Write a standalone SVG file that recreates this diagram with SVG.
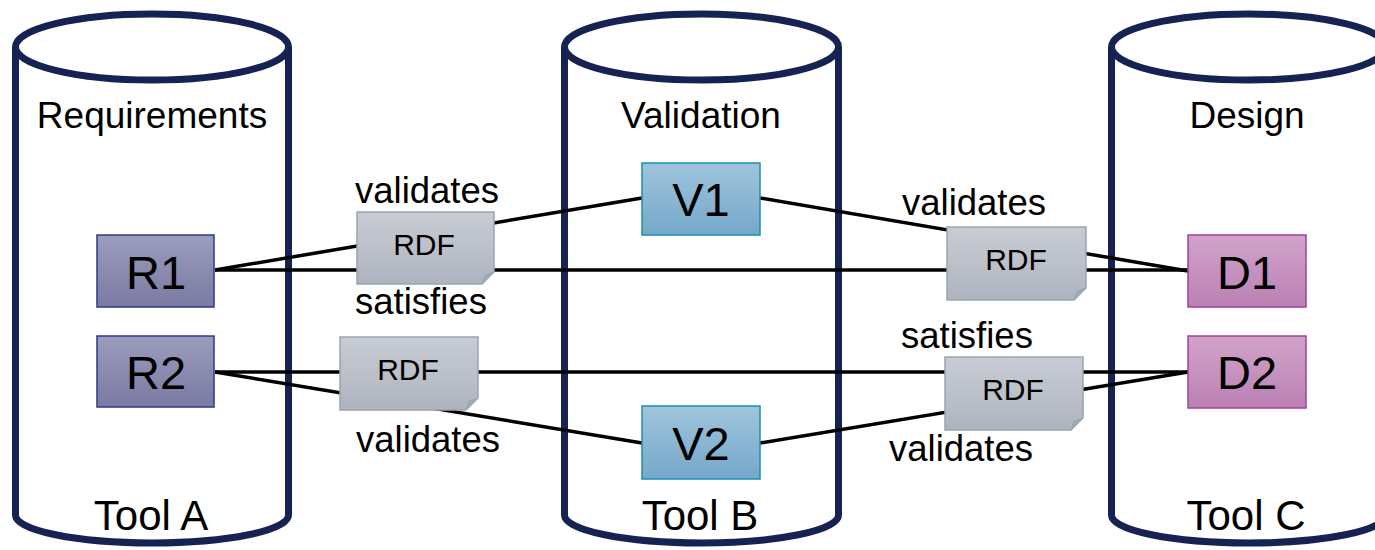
<svg xmlns="http://www.w3.org/2000/svg" width="1375" height="550" viewBox="0 0 1375 550">
  <defs>
    <linearGradient id="gR" x1="0" y1="0" x2="0" y2="1">
      <stop offset="0" stop-color="#9c9cbd"/>
      <stop offset="1" stop-color="#7a7aa3"/>
    </linearGradient>
    <linearGradient id="gV" x1="0" y1="0" x2="0" y2="1">
      <stop offset="0" stop-color="#a0c4dc"/>
      <stop offset="1" stop-color="#74a8c9"/>
    </linearGradient>
    <linearGradient id="gD" x1="0" y1="0" x2="0" y2="1">
      <stop offset="0" stop-color="#d1a3c9"/>
      <stop offset="1" stop-color="#bb80b4"/>
    </linearGradient>
    <linearGradient id="gRDF" x1="0" y1="0" x2="0" y2="1">
      <stop offset="0" stop-color="#c8ccd4"/>
      <stop offset="1" stop-color="#aeb4be"/>
    </linearGradient>
  </defs>
  <style>
    text { font-family: "Liberation Sans", Arial, sans-serif; fill: #000; text-anchor: middle; }
    .cyl { fill: #fff; stroke: #162252; stroke-width: 7; }
    .title { font-size: 37px; }
    .tool { font-size: 42px; }
    .lbl { font-size: 36.5px; }
    .node { font-size: 47px; }
    .rdft { font-size: 30px; }
    .r { fill: url(#gR); stroke: #2b3a8c; stroke-width: 1.5; }
    .v { fill: url(#gV); stroke: #1a90b0; stroke-width: 1.5; }
    .d { fill: url(#gD); stroke: #a3409c; stroke-width: 1.5; }
    .rdf { fill: url(#gRDF); stroke: #9ba4b2; stroke-width: 1.5; }
    .fold { fill: #a2aab6; stroke: #9ba4b2; stroke-width: 1; }
    .conn line { stroke: #000; stroke-width: 3.5; }
  </style>

  <!-- tool repositories -->
  <g id="toolA">
    <path class="cyl" d="M15.5,47 V515 A136.5,28 0 0 0 288.5,515 V47"/>
    <ellipse class="cyl" cx="152" cy="47" rx="136.5" ry="33"/>
    <text class="title" x="152" y="128">Requirements</text>
    <text class="tool" x="151" y="530">Tool A</text>
  </g>
  <g id="toolB">
    <path class="cyl" d="M564.5,47 V515 A137,28 0 0 0 838.5,515 V47"/>
    <ellipse class="cyl" cx="701.5" cy="47" rx="137" ry="33"/>
    <text class="title" x="701" y="128">Validation</text>
    <text class="tool" x="700" y="530">Tool B</text>
  </g>
  <g id="toolC">
    <path class="cyl" d="M1111.5,47 V515 A137,28 0 0 0 1385.5,515 V47"/>
    <ellipse class="cyl" cx="1248.5" cy="47" rx="137" ry="33"/>
    <text class="title" x="1247" y="128">Design</text>
    <text class="tool" x="1246" y="530">Tool C</text>
  </g>

  <!-- links between artefacts -->
  <g id="connectors" class="conn">
    <line x1="215" y1="270" x2="1188" y2="270"/>
    <line x1="215" y1="270" x2="642" y2="198"/>
    <line x1="760" y1="198" x2="1188" y2="271"/>
    <line x1="215" y1="372" x2="1188" y2="372"/>
    <line x1="215" y1="372" x2="642" y2="443"/>
    <line x1="760" y1="443" x2="1188" y2="372"/>
  </g>

  <g id="R1">
    <rect class="r" x="97" y="235" width="117" height="72"/>
    <text class="node" x="156" y="289">R1</text>
  </g>
  <g id="R2">
    <rect class="r" x="97" y="336" width="117" height="71"/>
    <text class="node" x="156" y="389">R2</text>
  </g>
  <g id="V1">
    <rect class="v" x="642" y="163" width="118" height="72"/>
    <text class="node" x="701" y="216">V1</text>
  </g>
  <g id="V2">
    <rect class="v" x="642" y="406" width="118" height="73"/>
    <text class="node" x="701" y="460">V2</text>
  </g>
  <g id="D1">
    <rect class="d" x="1188" y="235" width="118" height="72"/>
    <text class="node" x="1247" y="289">D1</text>
  </g>
  <g id="D2">
    <rect class="d" x="1188" y="336" width="118" height="72"/>
    <text class="node" x="1247" y="389">D2</text>
  </g>

  <!-- RDF link documents with folded corner -->
  <g id="rdf1">
    <path class="rdf" d="M357,212 H494 V272 L482,284 H357 Z"/>
    <path class="fold" d="M482,284 L485,275 L494,272 Z"/>
    <text class="rdft" x="424" y="255">RDF</text>
  </g>
  <g id="rdf2">
    <path class="rdf" d="M340,337 H478 V398 L466,410 H340 Z"/>
    <path class="fold" d="M466,410 L469,401 L478,398 Z"/>
    <text class="rdft" x="408" y="380">RDF</text>
  </g>
  <g id="rdf3">
    <path class="rdf" d="M947,227 H1086 V288 L1074,300 H947 Z"/>
    <path class="fold" d="M1074,300 L1077,291 L1086,288 Z"/>
    <text class="rdft" x="1016" y="270">RDF</text>
  </g>
  <g id="rdf4">
    <path class="rdf" d="M945,357 H1083 V418 L1071,430 H945 Z"/>
    <path class="fold" d="M1071,430 L1074,421 L1083,418 Z"/>
    <text class="rdft" x="1013" y="400">RDF</text>
  </g>

  <!-- link labels -->
  <g id="labels">
    <text class="lbl" x="427" y="203">validates</text>
    <text class="lbl" x="421" y="314">satisfies</text>
    <text class="lbl" x="974" y="215">validates</text>
    <text class="lbl" x="967" y="348">satisfies</text>
    <text class="lbl" x="428" y="452">validates</text>
    <text class="lbl" x="961" y="461">validates</text>
  </g>
</svg>
